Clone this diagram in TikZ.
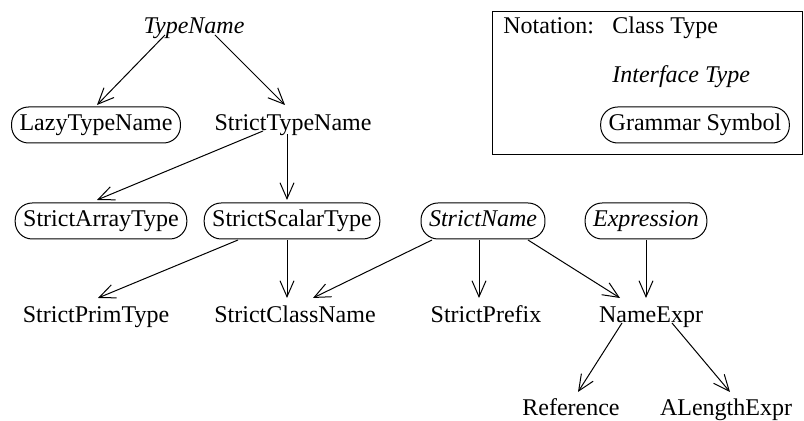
\documentclass[tikz,border=0pt]{standalone}
\usepackage{fontspec}
\setmainfont{Liberation Serif}[ItalicFont=Liberation Serif Italic]
\usetikzlibrary{arrows.meta, calc}

\begin{document}
\begin{tikzpicture}[x=0.5pt,y=-0.5pt]
\tikzset{
  lbl/.style={inner sep=0pt,text height=8.5pt,text depth=2.5pt,font=\fontsize{12}{14}\selectfont},
  ift/.style={lbl,font=\fontsize{12}{14}\selectfont\itshape},
  gs/.style={rectangle,rounded corners=8.5pt,draw=black,line width=0.5pt,inner xsep=4pt,inner ysep=3.5pt},
  ar/.style={-{Straight Barb[length=8pt,width=7pt]},line width=0.5pt,draw=black}
}
\useasboundingbox (0,0) rectangle (804,421);
% class hierarchy
\node[ift] (tn) at (194,28) {TypeName};
\node[lbl,gs] (lazy) at (96,125) {LazyTypeName};
\node[lbl] (stn) at (293,125) {StrictTypeName};
\node[lbl,gs] (arr) at (101,221) {StrictArrayType};
\node[lbl,gs] (scal) at (292,221) {StrictScalarType};
\node[ift,gs] (sname) at (483,221) {StrictName};
\node[ift,gs] (expr) at (646,221) {Expression};
\node[lbl] (prim) at (96,317) {StrictPrimType};
\node[lbl] (cls) at (295,317) {StrictClassName};
\node[lbl] (pre) at (486,317) {StrictPrefix};
\node[lbl] (nexpr) at (651,317) {NameExpr};
\node[lbl] (ref) at (571,410) {Reference};
\node[lbl] (alen) at (726,410) {ALengthExpr};
\draw[ar] ($(tn)+(-29,7)$) -- ($(lazy)+(1,-20)$);
\draw[ar] ($(tn)+(21,7)$) -- ($(stn)+(-8,-20)$);
\draw[ar] ($(stn)+(-30,6)$) -- ($(arr)+(-4,-21)$);
\draw[ar] ($(stn)+(-6,9)$) -- ($(scal)+(-5,-21)$);
\draw[ar] ($(scal)+(-54,19)$) -- ($(prim)+(2,-19)$);
\draw[ar] ($(scal)+(-5,19)$) -- ($(cls)+(-8,-19)$);
\draw[ar] ($(sname)+(-51,19)$) -- ($(cls)+(18,-19)$);
\draw[ar] ($(sname)+(-4,19)$) -- ($(pre)+(-7,-19)$);
\draw[ar] ($(sname)+(45,19)$) -- ($(nexpr)+(-31,-19)$);
\draw[ar] ($(expr)+(0,19)$) -- ($(nexpr)+(-5,-19)$);
\draw[ar] ($(nexpr)+(-29,6)$) -- ($(ref)+(7,-18)$);
\draw[ar] ($(nexpr)+(21,6)$) -- ($(alen)+(4,-18)$);
% legend
\node[draw=black,line width=0.5pt,minimum width=155pt,minimum height=71.5pt,inner sep=0pt] (nbox) at (647,83.5) {};
\node[lbl,anchor=west] (nt) at (503,28) {Notation:};
\node[lbl,anchor=west] (lct) at (612,28) {Class Type};
\node[ift,anchor=west] (lit) at (612,77) {Interface Type};
\node[lbl,gs] (lgs) at (695,125) {Grammar Symbol};
\end{tikzpicture}
\end{document}
